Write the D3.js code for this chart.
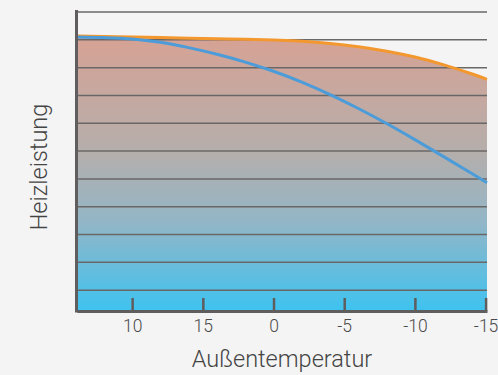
<!DOCTYPE html>
<style>
  body { margin: 0; background: #f4f4f4; }
  text { font-family: Roboto, "Noto Sans", sans-serif; font-weight: 300; }
</style>
<svg width="498" height="375"></svg>
<script src="https://d3js.org/d3.v7.min.js"></script>
<script>

// temperatures (°C) where the curves were read
var TEMPS = [13.9, 12, 10, 8, 6, 4, 2, 0, -2, -4, -6, -8, -10, -12, -14, -15.1];
// heating output, upper (orange) curve
var OUTPUT_MAX = [9.14, 9.12, 9.10, 9.08, 9.06, 9.04, 9.02, 8.99, 8.95, 8.87, 8.75, 8.59, 8.38, 8.11, 7.78, 7.58];
// heating output, lower (blue) curve
var OUTPUT_HP = [9.10, 9.08, 9.03, 8.91, 8.72, 8.48, 8.20, 7.87, 7.48, 7.03, 6.53, 5.99, 5.41, 4.81, 4.20, 3.86];

var TICK_VALUES = [10, 5, 0, -5, -10, -15];
var TICK_LABELS = ["10", "15", "0", "-5", "-10", "-15"];
var GRID = d3.range(0, 11);

var svg = d3.select("svg"),
    width = +svg.attr("width"),
    height = +svg.attr("height");

svg.append("rect")
    .attr("width", width)
    .attr("height", height)
    .attr("fill", "#f4f4f4");

var x = d3.scaleLinear()
    .domain([13.9, -15.1])
    .range([77, 487]);

var y = d3.scaleLinear()
    .domain([-0.75, 10])
    .range([311, 12]);

var defs = svg.append("defs");
var grad = defs.append("linearGradient")
    .attr("id", "fade")
    .attr("gradientUnits", "userSpaceOnUse")
    .attr("x1", 0).attr("x2", 0)
    .attr("y1", y(9.15)).attr("y2", y(-0.75));

grad.selectAll("stop")
  .data([[0, "#d7a294"], [0.42, "#b5aeab"], [0.68, "#92b6c7"], [1, "#3ec3f0"]])
  .enter().append("stop")
    .attr("offset", function(d) { return d[0]; })
    .attr("stop-color", function(d) { return d[1]; });

var curve = d3.curveMonotoneX;

svg.append("path")
    .datum(TEMPS)
    .attr("fill", "url(#fade)")
    .attr("d", d3.area()
      .curve(curve)
      .x(function(d) { return x(d); })
      .y0(y(-0.75))
      .y1(function(d, i) { return y(OUTPUT_MAX[i]); }));

// horizontal grid
svg.append("g")
  .selectAll("line")
  .data(GRID)
  .enter().append("line")
    .attr("x1", x.range()[0])
    .attr("x2", x.range()[1])
    .attr("y1", function(d) { return y(d); })
    .attr("y2", function(d) { return y(d); })
    .attr("stroke", "#6a6767")
    .attr("stroke-width", 1.5);

svg.append("path")
    .datum(TEMPS)
    .attr("fill", "none")
    .attr("stroke", "#f3982f")
    .attr("stroke-width", 3)
    .attr("d", d3.line()
      .curve(curve)
      .x(function(d) { return x(d); })
      .y(function(d, i) { return y(OUTPUT_MAX[i]); }));

svg.append("path")
    .datum(TEMPS)
    .attr("fill", "none")
    .attr("stroke", "#4b9cd9")
    .attr("stroke-width", 3)
    .attr("d", d3.line()
      .curve(curve)
      .x(function(d) { return x(d); })
      .y(function(d, i) { return y(OUTPUT_HP[i]); }));

// axes
var xAxis = svg.append("g")
    .attr("transform", "translate(0," + y(-0.75) + ")")
    .call(d3.axisBottom(x)
      .tickValues(TICK_VALUES)
      .tickFormat(function(d, i) { return TICK_LABELS[i]; })
      .tickSizeInner(-13)
      .tickSizeOuter(0)
      .tickPadding(9));

xAxis.select(".domain")
    .attr("stroke", "#5f5d5d")
    .attr("stroke-width", 3);
xAxis.selectAll(".tick line")
    .attr("stroke", "#5f5d5d")
    .attr("stroke-width", 2.5);
xAxis.selectAll(".tick text")
    .attr("fill", "#4a4a4a")
    .attr("font-size", 17.5)
    .attr("font-family", "Roboto, sans-serif")
    .attr("font-weight", 300);

svg.append("line")
    .attr("x1", x.range()[0] - 0.5)
    .attr("x2", x.range()[0] - 0.5)
    .attr("y1", 10)
    .attr("y2", y(-0.75) + 1.5)
    .attr("stroke", "#5f5d5d")
    .attr("stroke-width", 3);

svg.append("text")
    .attr("x", (x.range()[0] + x.range()[1]) / 2)
    .attr("y", 367)
    .attr("text-anchor", "middle")
    .attr("fill", "#444")
    .attr("font-size", 23.5)
    .text("Außentemperatur");

svg.append("text")
    .attr("transform", "translate(47,167) rotate(-90)")
    .attr("text-anchor", "middle")
    .attr("fill", "#444")
    .attr("font-size", 23.5)
    .text("Heizleistung");

</script>
